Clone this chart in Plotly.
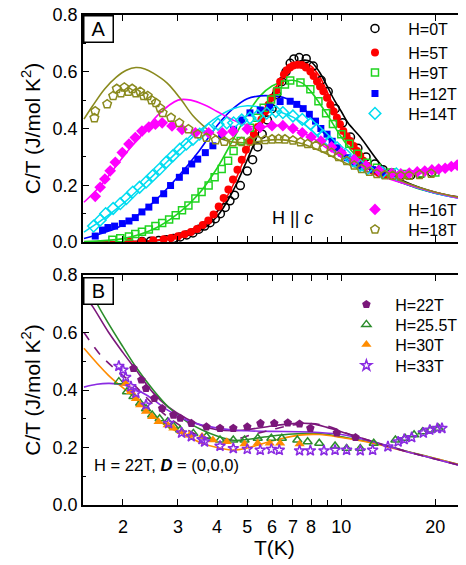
import plotly.graph_objects as go

# ---------------- Panel A : data (symbols) ----------------
T_0T = [2.3, 2.45, 2.6, 2.75, 2.9, 3.05, 3.2, 3.35, 3.5, 3.65, 3.8, 3.95, 4.1, 4.25, 4.4, 4.55, 4.75,
        5.0, 5.2, 5.4, 5.58, 5.8, 6.0, 6.2, 6.45, 6.65, 6.86, 7.05, 7.33, 7.72, 8.13, 8.62, 9.08, 9.57,
        10.1, 10.7, 11.3, 12.0, 12.8, 13.6, 14.5, 15.5, 16.7, 18.0, 19.5]
C_0T = [0.002, 0.003, 0.005, 0.008, 0.012, 0.018, 0.025, 0.032, 0.045, 0.056, 0.068, 0.082, 0.10, 0.122,
        0.145, 0.165, 0.199, 0.25, 0.29, 0.335, 0.38, 0.43, 0.47, 0.52, 0.565, 0.60, 0.63, 0.645, 0.65,
        0.646, 0.62, 0.57, 0.53, 0.47, 0.42, 0.37, 0.33, 0.30, 0.275, 0.255, 0.243, 0.236, 0.236, 0.24, 0.245]

T_5T = [2.1, 2.3, 2.5, 2.7, 2.85, 3.0, 3.15, 3.3, 3.45, 3.6, 3.75, 3.9, 4.05, 4.2, 4.35, 4.5, 4.65, 4.8,
        4.95, 5.1, 5.25, 5.4, 5.55, 5.7, 5.85, 6.0, 6.2, 6.37, 6.55, 6.69, 6.85, 7.02, 7.25, 7.48, 7.7,
        7.96, 8.15, 8.36, 8.55, 8.76, 9.0, 9.22, 9.45, 9.68, 9.9, 10.15, 10.4, 10.68, 10.95, 11.23, 11.5,
        11.76, 12.2, 12.65, 13.2, 13.8, 14.5, 15.3, 16.2]
C_5T = [0.001, 0.003, 0.006, 0.010, 0.014, 0.020, 0.027, 0.035, 0.046, 0.060, 0.076, 0.097, 0.125, 0.155,
        0.185, 0.22, 0.255, 0.29, 0.325, 0.355, 0.38, 0.405, 0.432, 0.46, 0.484, 0.508, 0.535, 0.565, 0.59,
        0.605, 0.615, 0.622, 0.625, 0.624, 0.615, 0.601, 0.585, 0.566, 0.548, 0.531, 0.508, 0.484, 0.46,
        0.438, 0.415, 0.391, 0.373, 0.356, 0.338, 0.321, 0.303, 0.286, 0.268, 0.251, 0.243, 0.238, 0.234,
        0.233, 0.234]

T_9T = [1.85, 1.96, 2.09, 2.19, 2.30, 2.42, 2.54, 2.67, 2.81, 2.95, 3.09, 3.24, 3.41, 3.57, 3.76, 3.93,
        4.14, 4.34, 4.52, 4.76, 5.1, 5.37, 5.64, 5.96, 6.25, 6.6, 6.86, 7.4, 7.96, 8.45, 8.94, 9.4, 10.0,
        10.6, 11.3, 12.1, 13.0, 14.4, 16.0, 18.0, 20.0]
C_9T = [0.008, 0.013, 0.019, 0.028, 0.036, 0.044, 0.056, 0.067, 0.079, 0.094, 0.112, 0.129, 0.153, 0.176,
        0.199, 0.228, 0.257, 0.286, 0.321, 0.356, 0.403, 0.438, 0.473, 0.502, 0.531, 0.555, 0.569, 0.562,
        0.538, 0.496, 0.454, 0.416, 0.38, 0.346, 0.311, 0.279, 0.262, 0.245, 0.24, 0.242, 0.245]

T_12T = [1.63, 1.72, 1.79, 1.88, 1.99, 2.09, 2.19, 2.30, 2.42, 2.54, 2.70, 2.84, 3.03, 3.17, 3.32, 3.47,
         3.67, 3.88, 4.14, 4.52, 4.8, 5.1, 5.5, 5.9, 6.37, 6.86, 7.2, 7.55, 7.9, 8.27, 8.6, 9.0, 9.35, 9.7,
         10.05, 10.45, 11.0, 11.5, 12.6, 13.5, 14.5]
C_12T = [0.021, 0.042, 0.051, 0.056, 0.065, 0.074, 0.086, 0.106, 0.123, 0.147, 0.17, 0.199, 0.228, 0.251,
         0.275, 0.292, 0.315, 0.339, 0.374, 0.397, 0.43, 0.455, 0.465, 0.475, 0.495, 0.496, 0.485, 0.47,
         0.45, 0.426, 0.40, 0.38, 0.355, 0.332, 0.312, 0.297, 0.28, 0.269, 0.255, 0.245, 0.24]

T_14T = [1.61, 1.69, 1.76, 1.86, 1.96, 2.05, 2.15, 2.26, 2.37, 2.49, 2.62, 2.75, 2.89, 3.04, 3.19, 3.35,
         3.52, 3.76, 4.03, 4.3, 4.52, 4.8, 5.1, 5.4, 5.77, 6.17, 6.5, 7.0, 7.5, 7.96, 8.35, 8.76, 9.2, 9.7,
         10.3, 10.9, 11.5, 12.1, 13.5, 15.0]
C_14T = [0.056, 0.077, 0.10, 0.118, 0.135, 0.153, 0.176, 0.193, 0.211, 0.234, 0.257, 0.281, 0.304, 0.327,
         0.345, 0.362, 0.38, 0.397, 0.415, 0.42, 0.42, 0.43, 0.437, 0.445, 0.454, 0.46, 0.456, 0.444, 0.432,
         0.416, 0.396, 0.374, 0.352, 0.332, 0.31, 0.286, 0.27, 0.258, 0.245, 0.24]

T_16T = [1.63, 1.69, 1.75, 1.82, 1.89, 1.99, 2.09, 2.19, 2.30, 2.42, 2.54, 2.67, 2.87, 3.09, 3.41, 3.76,
         4.16, 4.5, 5.0, 5.5, 6.0, 6.5, 7.0, 7.5, 8.0, 8.6, 9.3, 10.0, 11.0, 12.0, 13.2, 14.5, 15.5, 16.5,
         17.5, 18.5, 19.5, 20.5, 21.5, 22.5, 23.5, 24.5]
C_16T = [0.161, 0.193, 0.222, 0.251, 0.281, 0.315, 0.345, 0.368, 0.391, 0.405, 0.415, 0.42, 0.409, 0.397,
         0.385, 0.385, 0.385, 0.39, 0.398, 0.405, 0.41, 0.41, 0.40, 0.385, 0.37, 0.356, 0.335, 0.314, 0.29,
         0.268, 0.252, 0.242, 0.24, 0.243, 0.247, 0.25, 0.254, 0.257, 0.26, 0.266, 0.271, 0.276]

T_18T = [1.62, 1.63, 1.78, 1.86, 1.91, 1.97, 2.02, 2.08, 2.14, 2.2, 2.27, 2.33, 2.4, 2.47, 2.55, 2.63,
         2.68, 2.85, 3.03, 3.24, 3.47, 3.70, 3.96, 4.22, 4.5, 4.8, 5.1, 5.4, 5.7, 6.0, 6.3, 6.6, 7.0, 7.4,
         7.8, 8.3, 8.8, 9.3, 9.8, 10.4, 11.0, 11.6, 12.3, 13.0, 13.8, 14.6, 15.5, 16.5, 17.8, 19.4]
C_18T = [0.437, 0.461, 0.486, 0.515, 0.54, 0.525, 0.545, 0.53, 0.54, 0.525, 0.53, 0.515, 0.515, 0.50,
         0.49, 0.472, 0.455, 0.438, 0.42, 0.398, 0.38, 0.368, 0.359, 0.354, 0.352, 0.353, 0.355, 0.358,
         0.36, 0.362, 0.363, 0.362, 0.358, 0.352, 0.346, 0.34, 0.33, 0.315, 0.30, 0.286, 0.27, 0.258,
         0.248, 0.24, 0.236, 0.234, 0.233, 0.234, 0.237, 0.241]

# ---------------- Panel A : calculated curves ----------------
TL_0T = [1.5, 2, 2.5, 3, 3.5, 4, 4.5, 5, 5.5, 6, 6.5, 7, 7.5, 8, 8.5, 9, 9.5, 10, 10.5, 11.5, 13, 14, 15, 16, 18, 20, 22, 25]
CL_0T = [0.0, 0.001, 0.004, 0.015, 0.038, 0.09, 0.18, 0.29, 0.40, 0.50, 0.575, 0.62, 0.64, 0.635, 0.60,
         0.55, 0.50, 0.46, 0.42, 0.37, 0.29, 0.25, 0.228, 0.212, 0.19, 0.175, 0.165, 0.155]
TL_5T = [1.5, 2, 2.5, 3, 3.5, 4, 4.5, 5, 5.5, 6, 6.5, 7, 7.5, 8, 8.5, 9, 9.5, 10, 11, 12, 13, 14, 16, 18, 20, 22, 25]
CL_5T = [0.0, 0.001, 0.005, 0.018, 0.045, 0.105, 0.20, 0.32, 0.43, 0.52, 0.585, 0.62, 0.632, 0.62, 0.585,
         0.53, 0.47, 0.41, 0.33, 0.28, 0.25, 0.232, 0.205, 0.188, 0.174, 0.164, 0.155]
TL_9T = [1.5, 2, 2.5, 3, 3.5, 4, 4.5, 5, 5.5, 6, 6.5, 7, 7.5, 8, 8.5, 9, 10, 11, 12, 13, 14, 16, 18, 20, 25]
CL_9T = [0.002, 0.012, 0.045, 0.10, 0.17, 0.26, 0.36, 0.45, 0.515, 0.55, 0.565, 0.57, 0.56, 0.53, 0.49,
         0.45, 0.37, 0.31, 0.27, 0.245, 0.23, 0.205, 0.185, 0.172, 0.152]
TL_12T = [1.5, 2, 2.5, 3, 3.5, 4, 4.5, 5, 5.5, 6, 6.5, 7, 7.5, 8, 9, 10, 12, 14, 16, 20, 25]
CL_12T = [0.012, 0.06, 0.14, 0.23, 0.32, 0.41, 0.47, 0.505, 0.515, 0.515, 0.51, 0.495, 0.475, 0.44, 0.37,
          0.31, 0.25, 0.228, 0.205, 0.172, 0.15]
TL_14T = [1.5, 1.7, 2, 2.5, 3, 3.5, 4, 4.5, 5, 5.5, 6, 6.5, 7, 7.5, 8, 9, 10, 11, 12, 14, 16, 20, 25]
CL_14T = [0.035, 0.075, 0.135, 0.235, 0.32, 0.39, 0.44, 0.47, 0.48, 0.475, 0.465, 0.455, 0.44, 0.42, 0.395,
          0.34, 0.30, 0.27, 0.25, 0.228, 0.205, 0.172, 0.15]
TL_16T = [1.5, 1.7, 2, 2.3, 2.6, 3, 3.3, 3.7, 4, 4.5, 5, 5.5, 6, 6.5, 7, 8, 9, 10, 12, 14, 16, 20, 25]
CL_16T = [0.14, 0.20, 0.30, 0.38, 0.45, 0.50, 0.50, 0.48, 0.46, 0.43, 0.41, 0.405, 0.41, 0.41, 0.40, 0.37,
          0.33, 0.30, 0.25, 0.225, 0.205, 0.174, 0.15]
TL_18T = [1.5, 1.6, 1.75, 1.9, 2.05, 2.2, 2.35, 2.5, 2.77, 3.04, 3.35, 3.7, 4.0, 4.3, 4.6, 5, 5.5, 6, 6.5,
          7, 8, 9, 10, 11, 12, 13, 14, 16, 18, 20, 22, 25]
CL_18T = [0.433, 0.48, 0.54, 0.58, 0.605, 0.615, 0.61, 0.595, 0.56, 0.508, 0.445, 0.40, 0.372, 0.357, 0.351,
          0.35, 0.355, 0.36, 0.36, 0.355, 0.335, 0.31, 0.285, 0.265, 0.25, 0.24, 0.232, 0.21, 0.19, 0.175,
          0.165, 0.152]

# ---------------- Panel B : data (symbols) ----------------
T_22T = [2.16, 2.29, 2.37, 2.52, 2.67, 2.9, 3.05, 3.31, 3.7, 4.09, 4.51, 5.0, 5.51, 6.1, 6.74, 7.35, 7.96, 9.68, 11.1]
C_22T = [0.475, 0.435, 0.406, 0.371, 0.336, 0.313, 0.302, 0.284, 0.272, 0.267, 0.267, 0.272, 0.284, 0.284,
         0.286, 0.282, 0.267, 0.251, 0.235]
T_255T = [1.94, 2.06, 2.16, 2.27, 2.37, 2.48, 2.62, 2.78, 2.9, 3.05, 3.36, 3.7, 4.09, 4.51, 4.9, 5.4, 5.97,
          6.45, 7.23, 7.8, 8.5, 9.55, 10.4, 11.5, 12.7, 14.9, 16.0, 17.1, 18.2, 19.3, 20.5]
C_255T = [0.429, 0.394, 0.377, 0.354, 0.335, 0.313, 0.30, 0.29, 0.275, 0.261, 0.249, 0.238, 0.226, 0.226,
          0.226, 0.232, 0.232, 0.232, 0.226, 0.22, 0.215, 0.205, 0.197, 0.197, 0.215, 0.226, 0.232, 0.244,
          0.255, 0.261, 0.267]
T_30T = [2.04, 2.12, 2.2, 2.27, 2.37, 2.48, 2.6, 2.78, 2.9, 3.08, 3.27, 3.58, 3.88, 4.3, 4.9, 5.4, 5.9, 6.37, 7.35]
C_30T = [0.423, 0.394, 0.37, 0.348, 0.325, 0.307, 0.29, 0.278, 0.267, 0.255, 0.243, 0.238, 0.226, 0.22,
         0.212, 0.215, 0.215, 0.215, 0.212]
T_33T = [1.94, 2.0, 2.04, 2.12, 2.2, 2.37, 2.8, 3.08, 3.31, 3.58, 3.65, 4.09, 4.51, 5.0, 5.5, 5.97, 6.33,
         7.35, 7.96, 8.8, 9.55, 10.4, 11.5, 12.6, 14.1, 15.2, 15.9, 16.8, 18.3, 19.2, 20.3, 21.0]
C_33T = [0.483, 0.47, 0.444, 0.412, 0.389, 0.348, 0.284, 0.251, 0.238, 0.228, 0.22, 0.205, 0.197, 0.194,
         0.191, 0.194, 0.191, 0.189, 0.189, 0.189, 0.191, 0.191, 0.189, 0.191, 0.203, 0.22, 0.228, 0.235,
         0.251, 0.261, 0.267, 0.267]

# ---------------- Panel B : calculated curves ----------------
TL_22T = [1.55, 1.6, 1.8, 2.0, 2.2, 2.5, 2.8, 3.2, 3.6, 4.0, 4.5, 5.0, 6.0, 7.0, 8.0, 9.0, 10.4, 12, 13.2, 15, 17, 20, 25]
CL_22T = [0.71, 0.69, 0.60, 0.53, 0.47, 0.39, 0.34, 0.30, 0.275, 0.262, 0.258, 0.262, 0.275, 0.283, 0.283,
          0.27, 0.249, 0.228, 0.215, 0.197, 0.18, 0.16, 0.133]
TL_255T = [1.5, 1.55, 1.64, 1.8, 2.0, 2.2, 2.5, 2.8, 3.2, 3.6, 4.0, 4.5, 5.0, 6.0, 7.0, 8.0, 9.0, 10, 12, 14, 16, 20, 25]
CL_255T = [0.79, 0.77, 0.707, 0.63, 0.55, 0.48, 0.40, 0.34, 0.29, 0.26, 0.24, 0.225, 0.228, 0.24, 0.247,
           0.249, 0.245, 0.237, 0.222, 0.205, 0.188, 0.162, 0.135]
TL_30T = [1.5, 1.8, 2.16, 2.5, 2.78, 3.2, 3.58, 4.0, 4.51, 5.0, 5.66, 6.5, 7.35, 8.5, 10, 12, 14, 16, 20, 25]
CL_30T = [0.545, 0.45, 0.377, 0.31, 0.272, 0.24, 0.215, 0.20, 0.191, 0.198, 0.215, 0.232, 0.243, 0.245,
          0.235, 0.22, 0.203, 0.187, 0.162, 0.135]
TL_33T = [1.5, 1.65, 1.81, 2.0, 2.16, 2.4, 2.78, 3.2, 3.58, 4.0, 4.51, 5.0, 6.0, 7.35, 8.5, 10, 12, 14, 16, 20, 25]
CL_33T = [0.41, 0.42, 0.423, 0.418, 0.406, 0.38, 0.33, 0.295, 0.278, 0.268, 0.261, 0.258, 0.256, 0.255,
          0.252, 0.245, 0.226, 0.205, 0.187, 0.16, 0.133]
TL_D0 = [1.5, 1.7, 1.9, 2.16, 2.5, 2.78, 3.2, 3.58, 4.0, 4.5, 5.0, 5.66, 6.3, 7.0, 8.0, 9.0, 10.4, 12, 14, 17, 20, 25]
CL_D0 = [0.60, 0.52, 0.47, 0.42, 0.35, 0.307, 0.262, 0.238, 0.228, 0.226, 0.24, 0.255, 0.268, 0.278, 0.283,
         0.275, 0.25, 0.228, 0.205, 0.18, 0.16, 0.133]

X_TICKS = [2, 3, 4, 5, 6, 7, 8, 10, 20]
X_LABELS = ['2', '3', '4', '5', '6', '7', '8', '10', '20']
X_MINOR = [9]
Y_TICKS = [0.0, 0.2, 0.4, 0.6, 0.8]
Y_LABELS = ['0.0', '0.2', '0.4', '0.6', '0.8']
Y_MINOR = [0.1, 0.3, 0.5, 0.7]

FONT = 'Liberation Sans, Arial, sans-serif'
NB_A = '\u00a0\u00a0\u00a0'
NB_B = '\u00a0\u00a0'

# layout geometry (screen pixels of the page: plot area top / bottom)
PLOT_TOP, PLOT_BOT = 15, 505
PLOT_H = PLOT_BOT - PLOT_TOP
A_BOT, B_TOP = 242, 275
LEG_OFFSET = 16.5  # legend top -> row centre
LEG_ROWS = {'legend': 28, 'legend2': 52, 'legend3': 72, 'legend4': 93, 'legend5': 113,
            'legend6': 209, 'legend7': 229,
            'legend8': 304, 'legend9': 324, 'legend10': 344, 'legend11': 365}
LEG_X = {'legend': 0.712, 'legend2': 0.712, 'legend3': 0.712, 'legend4': 0.712, 'legend5': 0.712,
         'legend6': 0.712, 'legend7': 0.712,
         'legend8': 0.6895, 'legend9': 0.6895, 'legend10': 0.6895, 'legend11': 0.6895}

fig = go.Figure()


def add_line(T, C, color, xa, ya, dash='solid'):
    fig.add_trace(go.Scatter(x=T, y=C, mode='lines', xaxis=xa, yaxis=ya, showlegend=False,
                             line=dict(color=color, width=1.6, dash=dash, shape='spline', smoothing=1.0),
                             hoverinfo='skip'))


def add_pts(T, C, name, symbol, color, size, xa, ya, leg, filled):
    if filled:
        mk = dict(symbol=symbol, size=size, color=color, line=dict(width=0))
    else:
        mk = dict(symbol=symbol, size=size, color=color, line=dict(width=1.5, color=color))
    pad = NB_A if xa == 'x' else NB_B
    fig.add_trace(go.Scatter(x=T, y=C, mode='markers', name=pad + name, xaxis=xa, yaxis=ya, marker=mk,
                             legend=leg))


c_black, c_red, c_green, c_blue = 'black', '#ff0000', '#1fd41f', '#0000ff'
c_cyan, c_mag, c_olive = '#00dcf0', '#ff00ff', '#8a8a1e'
c_pur, c_fgreen, c_orange, c_violet = '#7b177b', '#2a8c2a', '#ff8c00', '#8a2be2'

# lines panel A
add_line(TL_0T, CL_0T, c_black, 'x', 'y')
add_line(TL_5T, CL_5T, c_red, 'x', 'y')
add_line(TL_9T, CL_9T, c_green, 'x', 'y')
add_line(TL_12T, CL_12T, c_blue, 'x', 'y')
add_line(TL_14T, CL_14T, c_cyan, 'x', 'y')
add_line(TL_16T, CL_16T, c_mag, 'x', 'y')
add_line(TL_18T, CL_18T, c_olive, 'x', 'y')

# points panel A
add_pts(T_0T, C_0T, 'H=0T', 'circle-open', c_black, 8, 'x', 'y', 'legend', False)
add_pts(T_5T, C_5T, 'H=5T', 'circle', c_red, 8, 'x', 'y', 'legend2', True)
add_pts(T_9T, C_9T, 'H=9T', 'square-open', c_green, 7, 'x', 'y', 'legend3', False)
add_pts(T_12T, C_12T, 'H=12T', 'square', c_blue, 7, 'x', 'y', 'legend4', True)
add_pts(T_14T, C_14T, 'H=14T', 'diamond-open', c_cyan, 9, 'x', 'y', 'legend5', False)
add_pts(T_16T, C_16T, 'H=16T', 'diamond', c_mag, 9, 'x', 'y', 'legend6', True)
add_pts(T_18T, C_18T, 'H=18T', 'pentagon-open', c_olive, 9, 'x', 'y', 'legend7', False)

# lines panel B
add_line(TL_22T, CL_22T, c_pur, 'x2', 'y2')
add_line(TL_255T, CL_255T, c_fgreen, 'x2', 'y2')
add_line(TL_30T, CL_30T, c_orange, 'x2', 'y2')
add_line(TL_33T, CL_33T, c_violet, 'x2', 'y2')
add_line(TL_D0, CL_D0, c_pur, 'x2', 'y2', dash='dash')

# points panel B
add_pts(T_22T, C_22T, 'H=22T', 'pentagon', c_pur, 9, 'x2', 'y2', 'legend8', True)
add_pts(T_255T, C_255T, 'H=25.5T', 'triangle-up-open', c_fgreen, 8, 'x2', 'y2', 'legend9', False)
add_pts(T_30T, C_30T, 'H=30T', 'triangle-up', c_orange, 9, 'x2', 'y2', 'legend10', True)
add_pts(T_33T, C_33T, 'H=33T', 'star-open', c_violet, 8, 'x2', 'y2', 'legend11', False)

xcommon = dict(type='log', range=[0.173, 1.396], ticks='inside', ticklen=6, tickwidth=1.3,
               tickcolor='black', mirror='ticks', showline=True, linecolor='black', linewidth=1.5,
               showgrid=False, zeroline=False, tickvals=X_TICKS, automargin=False,
               minor=dict(tickvals=X_MINOR, ticks='inside', ticklen=5, tickcolor='black', showgrid=False))
ycommon = dict(range=[0, 0.8], ticks='inside', ticklen=6, tickwidth=1.3, tickcolor='black',
               mirror='ticks', showline=True, linecolor='black', linewidth=1.5, showgrid=False,
               zeroline=False, tickvals=Y_TICKS, ticktext=Y_LABELS, automargin=False,
               ticklabeloverflow='allow',
               tickfont=dict(size=18, color='black'),
               minor=dict(tickvals=Y_MINOR, ticks='inside', ticklen=3, tickcolor='black', showgrid=False),
               title=dict(text='C/T (J/mol K<sup>2</sup>)', font=dict(size=21, color='black'), standoff=6))

legends = {}
for key, row in LEG_ROWS.items():
    legends[key] = dict(xanchor='left', yanchor='top', bgcolor='rgba(0,0,0,0)',
                        font=dict(size=16, color='black'), borderwidth=0,
                        x=LEG_X[key], y=1 - (row - LEG_OFFSET - PLOT_TOP) / PLOT_H)

fig.update_layout(
    width=466, height=565,
    # the page body adds an 8px offset, margins are shifted to keep the plot area in place
    margin=dict(l=75, r=9, t=PLOT_TOP - 8, b=565 - (PLOT_BOT - 8), autoexpand=False),
    paper_bgcolor='white', plot_bgcolor='white',
    font=dict(family=FONT, color='black'),
    xaxis=dict(**xcommon, domain=[0, 1], anchor='y', showticklabels=False),
    xaxis2=dict(**xcommon, domain=[0, 1], anchor='y2', ticktext=X_LABELS, ticklabelstandoff=5,
                tickfont=dict(size=18, color='black')),
    yaxis=dict(**ycommon, domain=[(PLOT_BOT - A_BOT) / PLOT_H, 1], anchor='x'),
    yaxis2=dict(**ycommon, domain=[0, (PLOT_BOT - B_TOP) / PLOT_H], anchor='x2'),
    annotations=[
        dict(text='A', xref='x domain', yref='y domain', x=0, y=1, xanchor='left', yanchor='top',
             yshift=0, showarrow=False, font=dict(size=20, color='black'), bordercolor='black',
             borderwidth=1.5, borderpad=1, width=26, height=23, bgcolor='white'),
        dict(text='B', xref='x2 domain', yref='y2 domain', x=0, y=1, xanchor='left', yanchor='top',
             yshift=-2, showarrow=False, font=dict(size=20, color='black'), bordercolor='black',
             borderwidth=1.5, borderpad=1, width=26, height=23, bgcolor='white'),
        dict(text='H || <i>c</i>', xref='x', yref='y', x=0.843, y=0.084, showarrow=False,
             font=dict(size=18, color='black')),
        dict(text='H = 22T, <b><i>D</i></b> = (0,0,0)', xref='x2', yref='y2', x=0.202, y=0.139,
             xanchor='left', showarrow=False, font=dict(size=16.5, color='black')),
        dict(text='T(K)', xref='paper', yref='paper', x=0.5, y=-(547 - PLOT_BOT) / PLOT_H,
             xanchor='center', yanchor='middle', showarrow=False, font=dict(size=21, color='black')),
    ],
)
fig.update_layout(**legends)

fig.write_html('out.html')
